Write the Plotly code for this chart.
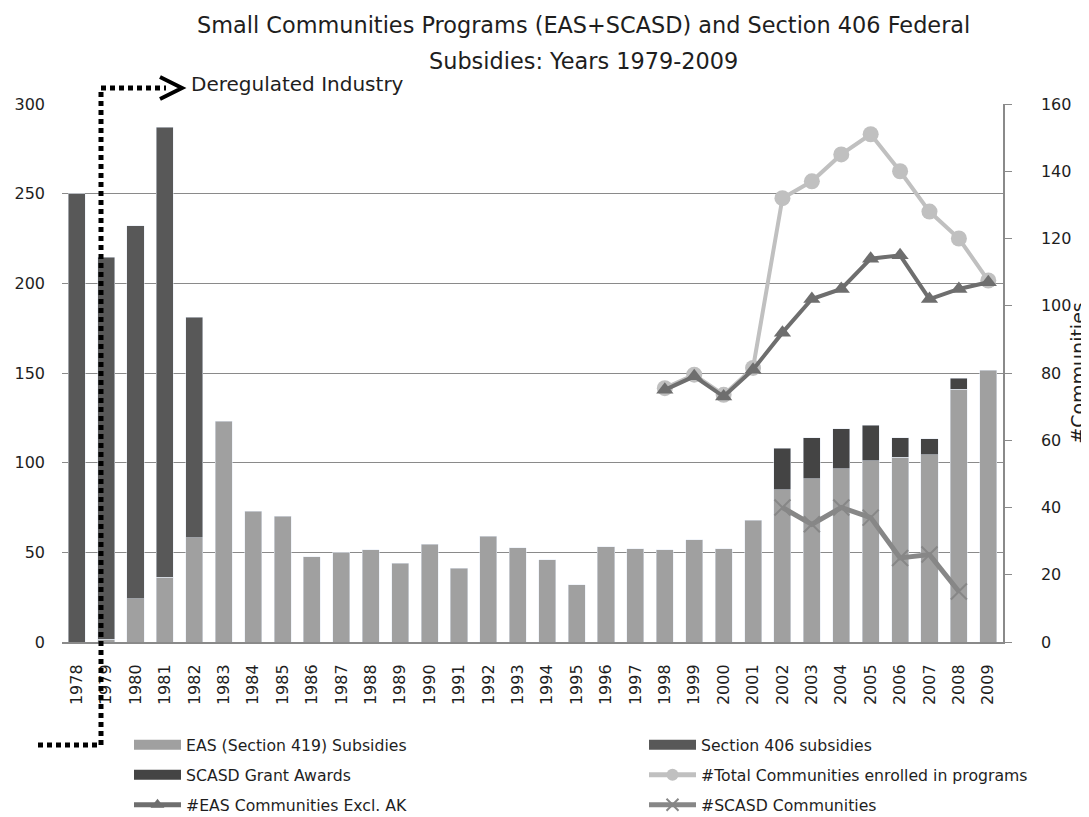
import plotly.graph_objects as go

# ---------------- data ----------------
years = [str(y) for y in range(1978, 2010)]
eas_subsidies = [0, 1.5, 24, 36, 58, 123, 73, 70, 47.5, 50, 51.5, 44, 54.5, 41, 59, 52.5,
                 46, 32, 53, 52, 51.5, 57, 52, 68, 85, 91, 96.5, 101, 103, 104.5, 141, 151.5]
sec406_years = ["1978", "1979", "1980", "1981", "1982"]
sec406_subsidies = [250, 213, 208, 251, 123]
scasd_years = ["2002", "2003", "2004", "2005", "2006", "2007", "2008"]
scasd_grants = [23, 23, 22.3, 20, 10.8, 8.7, 6.2]

line_years = [str(y) for y in range(1998, 2010)]
total_communities = [75.5, 79.5, 73.5, 81.5, 132, 137, 145, 151, 140, 128, 120, 107.5]
eas_communities = [75, 79, 73, 81, 92, 102, 105, 114, 115, 102, 105, 107]
scasd_comm_years = ["2002", "2003", "2004", "2005", "2006", "2007", "2008"]
scasd_communities = [40, 35, 40, 37, 25, 26, 15]

left_ticks = [0, 50, 100, 150, 200, 250, 300]
right_ticks = [0, 20, 40, 60, 80, 100, 120, 140, 160]

# ---------------- style ----------------
FONT = "DejaVu Sans"
TXT = "#1e1e1e"
C_EAS = "#a0a0a0"
C_406 = "#585858"
C_SCASD = "#444444"
C_TOT = "#c0c0c0"
C_EASC = "#6e6e6e"
C_SCC = "#878787"
GRID = "#8a8a8a"

# the page body adds an 8px margin, so the figure is drawn 8px smaller
OFF = 8
W, H = 1089 - OFF, 817 - OFF
L, R, T, B = 62 - OFF, 86, 104 - OFF, 175
PW, PH = W - L - R, H - T - B


def px(x):
    return (x - OFF - L) / PW


def py(y):
    return (H - B - (y - OFF)) / PH


def cx(x):
    return (x - OFF) / W


def cy(y):
    return 1 - (y - OFF) / H


fig = go.Figure()

# bars (stacked)
fig.add_trace(go.Bar(x=years, y=eas_subsidies, marker_color=C_EAS, showlegend=False,
                     legendgroup="eas", name="EAS (Section 419) Subsidies"))
fig.add_trace(go.Bar(x=sec406_years, y=sec406_subsidies, marker_color=C_406, showlegend=False,
                     legendgroup="s406", name="Section 406 subsidies"))
fig.add_trace(go.Bar(x=scasd_years, y=scasd_grants, marker_color=C_SCASD, showlegend=False,
                     legendgroup="scasd", name="SCASD Grant Awards"))

# lines on secondary axis
fig.add_trace(go.Scatter(x=line_years, y=total_communities, yaxis="y2", mode="lines+markers",
                         line=dict(color=C_TOT, width=4),
                         marker=dict(symbol="circle", size=16, color=C_TOT),
                         name="#Total Communities enrolled in programs", legend="legend4"))
fig.add_trace(go.Scatter(x=line_years, y=eas_communities, yaxis="y2", mode="lines+markers",
                         line=dict(color=C_EASC, width=4),
                         marker=dict(symbol="triangle-up", size=15, color=C_EASC),
                         name="#EAS Communities Excl. AK", legend="legend5"))
fig.add_trace(go.Scatter(x=scasd_comm_years, y=scasd_communities, yaxis="y2", mode="lines+markers",
                         line=dict(color=C_SCC, width=5),
                         marker=dict(symbol="x-thin", size=16, color=C_SCC,
                                     line=dict(color=C_SCC, width=2)),
                         name="#SCASD Communities", legend="legend6"))

# legend swatches for the bar series (wide swatches like the original)
fig.add_trace(go.Scatter(x=[None], y=[None], mode="lines", line=dict(color=C_EAS, width=10),
                         name="EAS (Section 419) Subsidies", legendgroup="eas", legend="legend"))
fig.add_trace(go.Scatter(x=[None], y=[None], mode="lines", line=dict(color=C_406, width=10),
                         name="Section 406 subsidies", legendgroup="s406", legend="legend2"))
fig.add_trace(go.Scatter(x=[None], y=[None], mode="lines", line=dict(color=C_SCASD, width=10),
                         name="SCASD Grant Awards", legendgroup="scasd", legend="legend3"))


def leg(xp, yp, sizing="trace"):
    return dict(orientation="h", x=cx(xp), y=cy(yp), xref="container", yref="container",
                xanchor="left", yanchor="middle", itemsizing=sizing,
                font=dict(family=FONT, size=15.7, color=TXT), itemwidth=47,
                bgcolor="rgba(0,0,0,0)")


dot = dict(color="black", width=5, dash="5px,4px")
shapes = [
    dict(type="line", xref="paper", yref="paper", x0=px(38), x1=px(101), y0=py(745), y1=py(745), line=dot),
    dict(type="line", xref="paper", yref="paper", x0=px(101), x1=px(101), y0=py(745), y1=py(88), line=dot),
    dict(type="line", xref="paper", yref="paper", x0=px(101), x1=px(166), y0=py(88), y1=py(88), line=dot),
    dict(type="path", xref="paper", yref="paper",
         path=f"M {px(160)},{py(77)} L {px(182)},{py(88)} L {px(160)},{py(99)}",
         line=dict(color="black", width=4)),
]

annotations = [
    dict(text="Small Communities Programs (EAS+SCASD) and Section 406 Federal", xref="paper", yref="paper",
         x=px(583), y=py(25), xanchor="center", yanchor="middle", showarrow=False,
         font=dict(family=FONT, size=22.4, color=TXT)),
    dict(text="Subsidies: Years 1979-2009", xref="paper", yref="paper",
         x=px(583), y=py(61), xanchor="center", yanchor="middle", showarrow=False,
         font=dict(family=FONT, size=22.4, color=TXT)),
    dict(text="Deregulated Industry", xref="paper", yref="paper",
         x=px(189), y=py(84), xanchor="left", yanchor="middle", showarrow=False,
         font=dict(family=FONT, size=20, color=TXT)),
]

fig.update_layout(
    width=W, height=H, autosize=False,
    margin=dict(l=L, r=R, t=T, b=B),
    paper_bgcolor="white", plot_bgcolor="white",
    barmode="stack", bargap=0.42,
    font=dict(family=FONT, size=16, color=TXT),
    xaxis=dict(type="category", categoryorder="array", categoryarray=years, range=[-0.5, 31.5],
               tickangle=-90, showgrid=False, showline=True, linecolor=GRID, linewidth=2,
               ticks="outside", ticklen=14, tickcolor="rgba(0,0,0,0)",
               tickfont=dict(family=FONT, size=16, color=TXT), zeroline=False, automargin=False),
    yaxis=dict(range=[0, 300], tickvals=left_ticks, showgrid=True, gridcolor=GRID, gridwidth=1,
               zeroline=False, showline=False, ticks="", ticklabelstandoff=16, automargin=False,
               tickfont=dict(family=FONT, size=16, color=TXT)),
    yaxis2=dict(range=[0, 160], tickvals=right_ticks, overlaying="y", side="right", showgrid=False,
                zeroline=False, showline=True, linecolor=GRID, linewidth=1.5, automargin=False,
                ticks="outside", ticklen=7, tickcolor=GRID, ticklabelstandoff=26,
                tickfont=dict(family=FONT, size=16, color=TXT),
                title=dict(text="#Communities", font=dict(family=FONT, size=19, color=TXT), standoff=0)),
    legend=leg(129, 745),
    legend2=leg(644, 745),
    legend3=leg(129, 775),
    legend4=leg(644, 775, "constant"),
    legend5=leg(129, 805, "constant"),
    legend6=leg(644, 805, "constant"),
    shapes=shapes,
    annotations=annotations,
)

fig.write_html("out.html")
